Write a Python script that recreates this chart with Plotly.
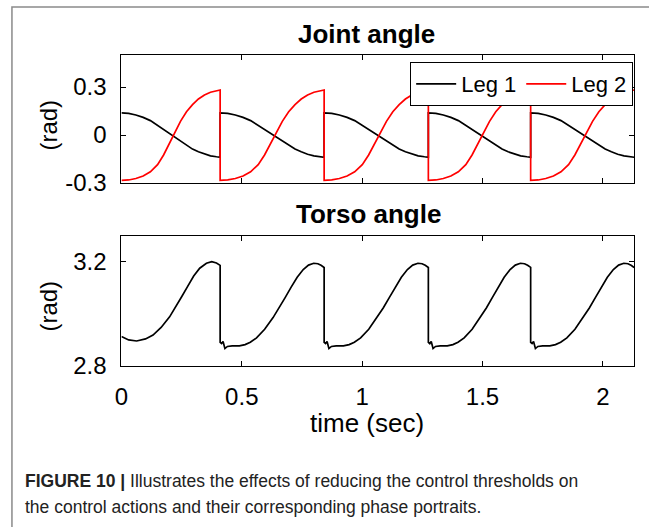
import plotly.graph_objects as go

W, H = 649, 527          # reference picture size (positions below are in its pixels)
FIG_H = 540              # rendered height (the capture comes out slightly squeezed)

# ---------------- data ----------------
step_starts = [0.0, 0.41, 0.842, 1.275, 1.70]
step_ends = [0.41, 0.842, 1.275, 1.70, 2.13]

# joint angles within one step (fraction of the step, value in rad)
joint_frac = [0.0, 0.073, 0.146, 0.22, 0.293, 0.366, 0.427, 0.488, 0.537,
              0.598, 0.659, 0.72, 0.78, 0.841, 0.902, 0.963, 1.0]
leg1_step = [0.138, 0.135, 0.125, 0.11, 0.09, 0.06, 0.035, 0.008, -0.014,
             -0.04, -0.065, -0.088, -0.105, -0.12, -0.13, -0.136, -0.139]
leg2_step = [-0.284, -0.281, -0.272, -0.256, -0.23, -0.185, -0.125, -0.05, 0.01,
             0.085, 0.145, 0.19, 0.225, 0.25, 0.267, 0.277, 0.281]

# torso angle: first step and the repeating steps after it
torso_first_frac = [0.0, 0.073, 0.154, 0.244, 0.32, 0.402, 0.488, 0.549, 0.61,
                    0.671, 0.732, 0.793, 0.861, 0.915, 0.963, 1.0]
torso_first = [2.912, 2.899, 2.895, 2.903, 2.918, 2.947, 2.988, 3.025, 3.065,
               3.105, 3.145, 3.175, 3.194, 3.2, 3.195, 3.186]
torso_cycle_frac = [0.0, 0.014, 0.028, 0.046, 0.07, 0.116, 0.185, 0.24, 0.29,
                    0.35, 0.428, 0.509, 0.567, 0.625, 0.683, 0.741, 0.799,
                    0.85, 0.9, 0.94, 0.97, 1.0]
torso_cycle = [2.89, 2.885, 2.893, 2.866, 2.874, 2.876, 2.876, 2.881, 2.89,
               2.907, 2.94, 2.985, 3.022, 3.062, 3.102, 3.14, 3.17,
               3.187, 3.194, 3.192, 3.186, 3.178]

x_ticks = [0, 0.5, 1, 1.5, 2]
x_ticktext = ["0", "0.5", "1", "1.5", "2"]
y1_ticks = [-0.3, 0, 0.3]
y1_ticktext = ["-0.3", "0", "0.3"]
y2_ticks = [2.8, 3.2]
y2_ticktext = ["2.8", "3.2"]

# ---------------- build series ----------------
t_joint, leg1, leg2 = [], [], []
for s, e in zip(step_starts, step_ends):
    for f, a, b in zip(joint_frac, leg1_step, leg2_step):
        t_joint.append(s + f * (e - s))
        leg1.append(a)
        leg2.append(b)

t_torso, torso = [], []
for k, (s, e) in enumerate(zip(step_starts, step_ends)):
    fr, vals = (torso_first_frac, torso_first) if k == 0 else (torso_cycle_frac, torso_cycle)
    for f, v in zip(fr, vals):
        t_torso.append(s + f * (e - s))
        torso.append(v)

FONT = "Liberation Sans, Arial, Helvetica, sans-serif"

fig = go.Figure()
fig.add_trace(go.Scatter(x=t_joint, y=leg1, mode="lines", name="Leg 1",
                         line=dict(color="black", width=1.7), xaxis="x", yaxis="y"))
fig.add_trace(go.Scatter(x=t_joint, y=leg2, mode="lines", name="Leg 2",
                         line=dict(color="#ff0000", width=1.7), xaxis="x", yaxis="y"))
fig.add_trace(go.Scatter(x=t_torso, y=torso, mode="lines", name="Torso",
                         showlegend=False,
                         line=dict(color="black", width=1.7), xaxis="x2", yaxis="y2"))

px_x = lambda p: p / W
px_y = lambda p: 1 - p / H

ax_common = dict(showline=True, linecolor="black", linewidth=1, mirror="ticks",
                 ticks="inside", ticklen=5, tickcolor="black", showgrid=False,
                 zeroline=False, tickfont=dict(family=FONT, size=24, color="black"))

xdom = [px_x(115.7), px_x(634)]
fig.update_layout(
    width=W, height=FIG_H,
    margin=dict(l=0, r=0, t=0, b=0),
    paper_bgcolor="white", plot_bgcolor="white",
    font=dict(family=FONT, color="black"),
    xaxis=dict(domain=xdom, range=[0, 2.13], anchor="y", tickvals=x_ticks,
               showticklabels=False, **ax_common),
    yaxis=dict(domain=[px_y(183), px_y(55)], range=[-0.3, 0.5], anchor="x",
               tickvals=y1_ticks, ticktext=y1_ticktext, ticklabelstandoff=9,
               **ax_common),
    xaxis2=dict(domain=xdom, range=[0, 2.13], anchor="y2", tickvals=x_ticks,
                ticktext=x_ticktext, ticklabelstandoff=9, **ax_common),
    yaxis2=dict(domain=[px_y(365.7), px_y(235.7)], range=[2.8, 3.3], anchor="x2",
                tickvals=y2_ticks, ticktext=y2_ticktext, ticklabelstandoff=9,
                **ax_common),
    legend=dict(orientation="h", x=px_x(633), xanchor="right", y=px_y(62),
                yanchor="top", bgcolor="white", bordercolor="black", borderwidth=1,
                font=dict(family=FONT, size=22, color="black"),
                itemwidth=40, tracegroupgap=0),
    showlegend=True,
)

annotations = [
    dict(text="<b>Joint angle</b>", x=px_x(363), y=px_y(34), xanchor="center",
         yanchor="middle", font=dict(size=26)),
    dict(text="<b>Torso angle</b>", x=px_x(365), y=px_y(214), xanchor="center",
         yanchor="middle", font=dict(size=26)),
    dict(text="(rad)", x=px_x(41), y=px_y(125), textangle=-90, xanchor="center",
         yanchor="middle", font=dict(size=24)),
    dict(text="(rad)", x=px_x(41), y=px_y(306), textangle=-90, xanchor="center",
         yanchor="middle", font=dict(size=24)),
    dict(text="time (sec)", x=px_x(364), y=px_y(423), xanchor="center",
         yanchor="middle", font=dict(size=26)),
    dict(text="<b>FIGURE 10 |</b> Illustrates the effects of reducing the control thresholds on",
         x=px_x(16), y=px_y(481), xanchor="left", yanchor="middle",
         font=dict(size=17.5, color="#222222")),
    dict(text="the control actions and their corresponding phase portraits.",
         x=px_x(16), y=px_y(507), xanchor="left", yanchor="middle",
         font=dict(size=17.5, color="#222222")),
]
for a in annotations:
    a.update(xref="paper", yref="paper", showarrow=False)
    a["font"].setdefault("family", FONT)
    a["font"].setdefault("color", "black")
fig.update_layout(annotations=annotations)

# light gray frame around the figure (open on right and bottom)
fig.add_shape(type="rect", xref="paper", yref="paper",
              x0=px_x(5), x1=1.2, y0=-0.2, y1=px_y(7),
              line=dict(color="#8a8a8a", width=1.5), layer="below")

fig.write_html("out.html", config={"responsive": False, "displayModeBar": False},
               post_script="document.body.style.margin='0';"
                           "document.body.style.overflow='hidden';")
